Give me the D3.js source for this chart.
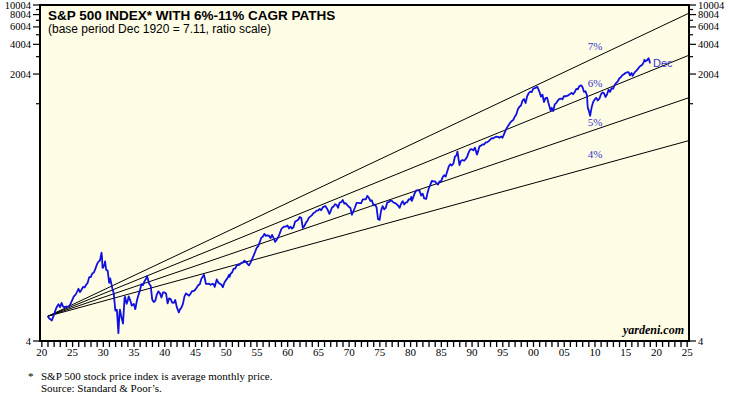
<!DOCTYPE html>
<html lang="en">
<head>
<meta charset="utf-8">
<title>S&amp;P 500 Index with CAGR paths</title>
<script src="https://cdnjs.cloudflare.com/ajax/libs/d3/7.8.5/d3.min.js"></script>
<style>
  body { margin: 0; background: #fff; }
  svg { display: block; }
  .serif { font-family: "Liberation Serif", "Times New Roman", serif; }
  .sans { font-family: "Liberation Sans", Arial, sans-serif; }
</style>
</head>
<body>
<svg id="chart" width="732" height="398"></svg>
<script>
// S&P 500 monthly average price (selected months)
var sp500 = [
  ["1920-12",7.11],["1921-03",6.75],["1921-06",6.6],["1921-08",6.45],["1921-12",7.3],
  ["1922-03",8.2],["1922-06",8.9],["1922-09",9.4],["1922-12",8.8],
  ["1923-03",9.7],["1923-06",8.9],["1923-09",8.8],["1923-12",8.9],
  ["1924-03",8.9],["1924-06",9.0],["1924-09",9.6],["1924-12",10.4],
  ["1925-03",11.3],["1925-06",11.7],["1925-09",12.5],["1925-12",13.5],
  ["1926-03",12.5],["1926-06",13.2],["1926-09",14.1],["1926-12",13.9],
  ["1927-03",14.8],["1927-06",15.5],["1927-09",17.7],["1927-12",17.7],
  ["1928-03",19.3],["1928-06",19.7],["1928-09",21.4],["1928-12",23.8],
  ["1929-03",25.4],["1929-06",26.1],["1929-09",31.3],["1929-10",28.0],["1929-11",22.0],["1929-12",22.1],
  ["1930-03",23.9],["1930-04",25.5],["1930-06",21.0],["1930-09",20.6],["1930-12",15.5],
  ["1931-02",17.2],["1931-06",13.7],["1931-09",12.0],["1931-12",8.1],
  ["1932-03",8.3],["1932-06",4.8],["1932-08",7.5],["1932-09",8.3],["1932-12",6.9],
  ["1933-03",6.0],["1933-06",10.9],["1933-07",11.2],["1933-10",9.5],["1933-12",10.1],
  ["1934-02",11.3],["1934-06",10.0],["1934-08",9.1],["1934-12",9.5],
  ["1935-03",8.4],["1935-06",10.2],["1935-09",11.6],["1935-12",13.0],
  ["1936-03",15.0],["1936-06",14.7],["1936-09",16.1],["1936-12",17.0],
  ["1937-02",18.1],["1937-06",15.2],["1937-09",14.5],["1937-12",10.5],
  ["1938-03",9.9],["1938-06",10.2],["1938-09",11.8],["1938-12",12.7],
  ["1939-03",12.2],["1939-06",11.0],["1939-09",12.4],["1939-12",12.4],
  ["1940-03",12.1],["1940-06",9.6],["1940-09",10.8],["1940-12",10.6],
  ["1941-03",9.8],["1941-06",9.7],["1941-09",10.4],["1941-12",8.8],
  ["1942-04",7.8],["1942-06",8.3],["1942-09",8.7],["1942-12",9.5],
  ["1943-03",11.3],["1943-06",12.1],["1943-09",11.8],["1943-12",11.5],
  ["1944-03",12.1],["1944-06",12.8],["1944-09",12.8],["1944-12",13.2],
  ["1945-03",13.9],["1945-06",14.7],["1945-09",15.0],["1945-12",17.0],
  ["1946-05",18.7],["1946-09",15.1],["1946-12",15.1],
  ["1947-03",15.2],["1947-06",14.8],["1947-09",15.1],["1947-12",15.0],
  ["1948-02",14.1],["1948-06",16.8],["1948-09",15.6],["1948-12",15.2],
  ["1949-03",14.9],["1949-06",14.0],["1949-09",15.6],["1949-12",16.5],
  ["1950-03",17.3],["1950-06",18.7],["1950-07",17.8],["1950-09",19.1],["1950-12",19.8],
  ["1951-03",21.6],["1951-06",21.6],["1951-09",23.3],["1951-12",23.4],
  ["1952-03",23.8],["1952-06",24.6],["1952-09",24.9],["1952-12",26.0],
  ["1953-03",25.3],["1953-06",24.1],["1953-09",23.3],["1953-12",24.8],
  ["1954-03",26.9],["1954-06",29.2],["1954-09",32.0],["1954-12",35.0],
  ["1955-03",36.5],["1955-06",40.0],["1955-09",44.3],["1955-12",45.4],
  ["1956-03",48.5],["1956-06",46.3],["1956-09",46.8],["1956-12",46.4],
  ["1957-03",44.0],["1957-06",47.4],["1957-09",44.0],["1957-12",40.3],
  ["1958-03",42.1],["1958-06",45.0],["1958-09",48.9],["1958-12",54.0],
  ["1959-03",56.2],["1959-06",57.5],["1959-09",57.5],["1959-12",59.0],
  ["1960-03",55.0],["1960-06",57.3],["1960-09",54.8],["1960-12",56.8],
  ["1961-03",64.7],["1961-06",65.6],["1961-09",67.3],["1961-12",71.7],
  ["1962-03",70.3],["1962-06",55.6],["1962-09",58.0],["1962-12",62.6],
  ["1963-03",65.7],["1963-06",70.8],["1963-09",72.8],["1963-12",75.0],
  ["1964-03",78.8],["1964-06",80.2],["1964-09",83.4],["1964-12",83.8],
  ["1965-03",86.8],["1965-06",84.1],["1965-09",89.9],["1965-12",91.7],
  ["1966-02",92.7],["1966-06",86.1],["1966-10",77.1],["1966-12",81.3],
  ["1967-03",89.4],["1967-06",91.4],["1967-09",96.7],["1967-12",95.3],
  ["1968-03",89.1],["1968-06",100.5],["1968-09",101.3],["1968-12",106.5],
  ["1969-03",98.1],["1969-06",98.9],["1969-09",94.5],["1969-12",91.1],
  ["1970-03",88.7],["1970-06",75.6],["1970-09",82.6],["1970-12",90.1],
  ["1971-03",99.6],["1971-06",99.7],["1971-09",99.4],["1971-12",99.2],
  ["1972-03",107.9],["1972-06",108.0],["1972-09",108.4],["1972-12",117.5],
  ["1973-03",112.4],["1973-06",104.3],["1973-09",105.6],["1973-12",94.2],
  ["1974-03",96.0],["1974-06",89.7],["1974-09",68.1],["1974-12",67.1],
  ["1975-03",83.8],["1975-06",92.4],["1975-09",85.7],["1975-12",88.7],
  ["1976-03",101.0],["1976-06",101.8],["1976-09",105.4],["1976-12",104.7],
  ["1977-03",100.6],["1977-06",99.3],["1977-09",97.0],["1977-12",93.8],
  ["1978-03",88.8],["1978-06",97.7],["1978-09",103.9],["1978-12",96.1],
  ["1979-03",100.6],["1979-06",101.7],["1979-09",108.6],["1979-12",107.8],
  ["1980-02",114.7],["1980-03",104.7],["1980-06",114.6],["1980-09",126.5],["1980-12",133.5],
  ["1981-03",133.2],["1981-06",132.6],["1981-09",118.3],["1981-12",123.8],
  ["1982-03",110.8],["1982-07",109.4],["1982-09",122.4],["1982-12",139.4],
  ["1983-03",151.9],["1983-06",166.4],["1983-09",164.4],["1983-12",164.9],
  ["1984-03",157.4],["1984-06",153.1],["1984-09",164.1],["1984-12",164.5],
  ["1985-03",180.7],["1985-06",189.6],["1985-09",184.1],["1985-12",207.3],
  ["1986-03",232.3],["1986-06",245.3],["1986-09",238.3],["1986-12",248.6],
  ["1987-03",292.5],["1987-06",301.4],["1987-08",329.4],["1987-10",280.2],["1987-12",241.0],
  ["1988-03",265.7],["1988-06",270.7],["1988-09",266.0],["1988-12",276.5],
  ["1989-03",292.7],["1989-06",323.7],["1989-09",347.3],["1989-12",348.6],
  ["1990-03",338.5],["1990-06",361.2],["1990-10",307.1],["1990-12",328.8],
  ["1991-03",372.3],["1991-06",378.3],["1991-09",389.2],["1991-12",388.5],
  ["1992-03",407.4],["1992-06",408.3],["1992-09",419.9],["1992-12",435.6],
  ["1993-03",450.2],["1993-06",448.1],["1993-09",460.1],["1993-12",465.9],
  ["1994-03",463.8],["1994-06",454.8],["1994-09",467.0],["1994-12",455.2],
  ["1995-03",495.5],["1995-06",539.4],["1995-09",578.8],["1995-12",610.9],
  ["1996-03",645.5],["1996-06",670.6],["1996-09",687.3],["1996-12",743.3],
  ["1997-03",784.1],["1997-06",884.5],["1997-09",937.0],["1997-12",962.4],
  ["1998-03",1076.8],["1998-06",1120.7],["1998-09",1020.6],["1998-12",1190.1],
  ["1999-03",1281.7],["1999-06",1332.1],["1999-09",1318.2],["1999-12",1428.7],
  ["2000-03",1443.0],["2000-08",1485.5],["2000-12",1330.9],
  ["2001-03",1185.9],["2001-06",1240.0],["2001-09",1044.6],["2001-12",1144.9],
  ["2002-03",1153.8],["2002-06",1007.2],["2002-10",855.7],["2002-12",909.9],
  ["2003-03",847.2],["2003-06",990.1],["2003-09",1022.6],["2003-12",1080.6],
  ["2004-03",1123.0],["2004-06",1132.8],["2004-09",1114.6],["2004-12",1199.2],
  ["2005-03",1194.9],["2005-06",1202.3],["2005-09",1225.6],["2005-12",1262.1],
  ["2006-03",1293.7],["2006-06",1253.1],["2006-09",1317.8],["2006-12",1416.4],
  ["2007-03",1406.8],["2007-06",1514.5],["2007-10",1539.7],["2007-12",1479.2],
  ["2008-03",1326.4],["2008-06",1341.3],["2008-09",1217.0],["2008-10",968.8],["2008-11",883.0],["2008-12",877.6],
  ["2009-03",757.1],["2009-06",923.3],["2009-09",1044.6],["2009-12",1110.4],
  ["2010-03",1152.0],["2010-06",1083.4],["2010-09",1122.1],["2010-12",1243.3],
  ["2011-03",1304.5],["2011-06",1287.3],["2011-09",1175.4],["2011-12",1243.3],
  ["2012-03",1389.2],["2012-06",1323.5],["2012-09",1443.4],["2012-12",1422.3],
  ["2013-03",1551.7],["2013-06",1628.0],["2013-09",1687.2],["2013-12",1807.8],
  ["2014-03",1863.5],["2014-06",1947.1],["2014-09",1993.2],["2014-12",2054.3],
  ["2015-03",2082.8],["2015-06",2099.3],["2015-09",1944.4],["2015-12",2054.1],
  ["2016-02",1918.6],["2016-06",2083.9],["2016-09",2159.0],["2016-12",2246.6],
  ["2017-03",2366.8],["2017-06",2434.0],["2017-09",2492.8],["2017-12",2664.3],
  ["2018-01",2789.8],["2018-03",2702.8],["2018-06",2754.4],["2018-09",2901.5],["2018-11",2723.2],["2018-12",2567.3]
];

// compound annual growth paths from the Dec 1920 base
var baseDate = "1920-12";
var baseValue = 7.11;
var cagrRates = [0.07, 0.06, 0.05, 0.04];
var cagrLabels = ["7%", "6%", "5%", "4%"];

var yTicks = [4, 1004, 2004, 3004, 4004, 5004, 6004, 7004, 8004, 9004, 10004];
var yLabels = [4, 2004, 4004, 6004, 8004, 10004];
var xYears = d3.range(1920, 2026);

var pLeft = 40, pRight = 689, pTop = 5, pBottom = 341;
var svg = d3.select("#chart");

// month string -> decimal year (mid-month)
function toYear(s) {
  var p = s.split("-");
  return +p[0] + (+p[1] - 0.5) / 12;
}

var x = d3.scaleLinear().domain([1919.7, 2025.3]).range([pLeft, pRight]);
var y = d3.scaleLog().domain([4, 10004]).range([pBottom, pTop]);

// plot background
svg.append("rect")
  .attr("x", pLeft).attr("y", pTop)
  .attr("width", pRight - pLeft).attr("height", pBottom - pTop)
  .attr("fill", "#fffde6");

// CAGR lines
var t0 = toYear(baseDate), t1 = 2025.3;
svg.append("g").selectAll("line")
  .data(cagrRates)
  .enter().append("line")
  .attr("x1", x(t0)).attr("y1", y(baseValue))
  .attr("x2", x(t1))
  .attr("y2", r => y(baseValue * Math.pow(1 + r, t1 - t0)))
  .attr("stroke", "#000").attr("stroke-width", 1);

// percentage labels sit just above each path around 2010
var labelYear = 2010;
svg.append("g").selectAll("text")
  .data(cagrRates)
  .enter().append("text")
  .attr("class", "serif")
  .attr("x", x(labelYear))
  .attr("y", (r, i) => y(baseValue * Math.pow(1 + r, labelYear - t0)) - [8, 6, 4, 8][i])
  .attr("text-anchor", "middle")
  .attr("font-size", 11)
  .attr("fill", "#3333cc")
  .text((r, i) => cagrLabels[i]);

// S&P 500 line
var line = d3.line()
  .x(d => x(toYear(d[0])))
  .y(d => y(d[1]));

svg.append("path")
  .datum(sp500)
  .attr("d", line)
  .attr("fill", "none")
  .attr("stroke", "#1010e0")
  .attr("stroke-width", 1.8)
  .attr("stroke-linejoin", "round");

var last = sp500[sp500.length - 1];
svg.append("text")
  .attr("class", "sans")
  .attr("x", x(toYear(last[0])) + 3)
  .attr("y", y(last[1]) + 4)
  .attr("font-size", 11)
  .attr("fill", "#3333cc")
  .text("Dec");

// frame
svg.append("rect")
  .attr("x", pLeft).attr("y", pTop)
  .attr("width", pRight - pLeft).attr("height", pBottom - pTop)
  .attr("fill", "none").attr("stroke", "#000").attr("stroke-width", 2);

// y axes, left and right
function yAxis(side) {
  var g = svg.append("g");
  var dir = side == "left" ? -1 : 1;
  var x0 = side == "left" ? pLeft : pRight;
  g.selectAll("line")
    .data(yTicks)
    .enter().append("line")
    .attr("x1", x0)
    .attr("x2", d => x0 + dir * (yLabels.indexOf(d) >= 0 ? 7 : 4))
    .attr("y1", d => y(d)).attr("y2", d => y(d))
    .attr("stroke", "#000").attr("stroke-width", 1.2);
  g.selectAll("text")
    .data(yLabels)
    .enter().append("text")
    .attr("class", "serif")
    .attr("x", x0 + dir * 9)
    .attr("y", d => y(d) + 3.5)
    .attr("text-anchor", side == "left" ? "end" : "start")
    .attr("font-size", 10.5)
    .text(d => d);
}
yAxis("left");
yAxis("right");

// x axis
var xg = svg.append("g");
xg.selectAll("line")
  .data(xYears)
  .enter().append("line")
  .attr("x1", d => x(d)).attr("x2", d => x(d))
  .attr("y1", pBottom).attr("y2", pBottom + 6)
  .attr("stroke", "#000").attr("stroke-width", 1.3);
xg.selectAll("text")
  .data(xYears.filter(d => d % 5 == 0))
  .enter().append("text")
  .attr("class", "serif")
  .attr("x", d => x(d))
  .attr("y", pBottom + 15)
  .attr("text-anchor", "middle")
  .attr("font-size", 11)
  .text(d => d3.format("02")(d % 100));

// titles
svg.append("text")
  .attr("class", "sans")
  .attr("x", 48).attr("y", 20)
  .attr("font-size", 13.5).attr("font-weight", "bold")
  .text("S&P 500 INDEX* WITH 6%-11% CAGR PATHS");
svg.append("text")
  .attr("class", "sans")
  .attr("x", 48).attr("y", 33)
  .attr("font-size", 12)
  .text("(base period Dec 1920 = 7.11, ratio scale)");

svg.append("text")
  .attr("class", "serif")
  .attr("x", pRight - 5).attr("y", pBottom - 7)
  .attr("text-anchor", "end")
  .attr("font-size", 12).attr("font-weight", "bold").attr("font-style", "italic")
  .text("yardeni.com");

// footnote
svg.append("text").attr("class", "serif")
  .attr("x", 28).attr("y", 380).attr("font-size", 11).text("*");
svg.append("text").attr("class", "serif")
  .attr("x", 41).attr("y", 380).attr("font-size", 11)
  .text("S&P 500 stock price index is average monthly price.");
svg.append("text").attr("class", "serif")
  .attr("x", 41).attr("y", 392).attr("font-size", 11)
  .text("Source: Standard & Poor\u2019s.");
</script>
</body>
</html>
